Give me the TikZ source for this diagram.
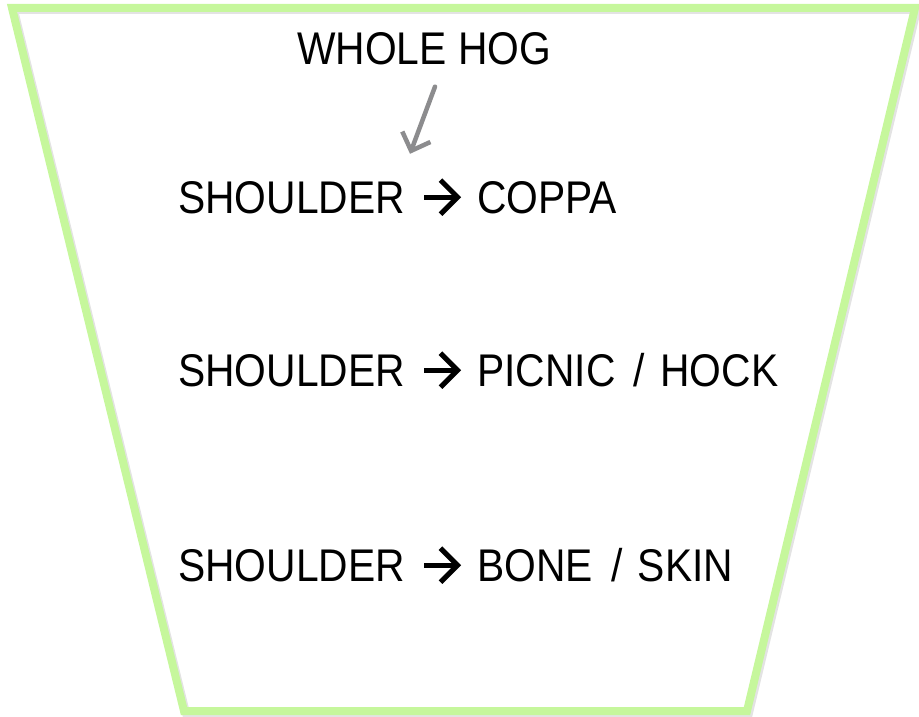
\documentclass[tikz,border=0pt]{standalone}
\usepackage{fontspec}
\usepackage{tikz}
\usetikzlibrary{arrows.meta,positioning}
\setmainfont[FakeStretch=0.89]{Liberation Sans}
\newcommand{\slashgap}{\hspace{7bp}/\hspace{4bp}}
\definecolor{Rim}{HTML}{C6F79C}
\definecolor{Shade}{HTML}{C8C8C8}
\definecolor{Pointer}{HTML}{8C8C8E}

\begin{document}
\begin{tikzpicture}[x=1bp, y=-1bp, font=\fontsize{46}{52}\selectfont,
  cut/.style={anchor=base west, inner sep=0pt},
  cutarrow/.style={-{Straight Barb[length=17bp, width=34bp]}, line width=5bp}]
  \useasboundingbox (0,0) rectangle (919,717);
  \draw[Shade, line width=8bp, opacity=0.5] (14,10) -- (917,10) -- (749,713) -- (186,713) -- cycle;
  \draw[Rim, line width=8bp] (12,8) -- (915,8) -- (747,711) -- (184,711) -- cycle;
  \node[cut] (hog) at (297,65) {WHOLE HOG};
  % shoulder rows
  \node[cut] (coppaS) at (178,213) {SHOULDER};
  \node[cut, right=72bp of coppaS.base east, anchor=base west] (coppa) {COPPA};
  \node[cut] (picnicS) at (178,386) {SHOULDER};
  \node[cut, right=72bp of picnicS.base east, anchor=base west] (picnic) {PICNIC \slashgap{} HOCK};
  \node[cut] (boneS) at (178,581) {SHOULDER};
  \node[cut, right=72bp of boneS.base east, anchor=base west] (bone) {BONE \slashgap{} SKIN};
  \draw[cutarrow] ([xshift=19bp]coppaS.east) -- ([xshift=-16bp]coppa.west);
  \draw[cutarrow] ([xshift=19bp]picnicS.east) -- ([xshift=-16bp]picnic.west |- picnicS.east);
  \draw[cutarrow] ([xshift=19bp]boneS.east) -- ([xshift=-16bp]bone.west |- boneS.east);
  \draw[-{Straight Barb[length=15bp, width=30bp]}, Pointer, line width=4.5bp, line cap=round]
    ([shift={(138,21)}]hog.south west) -- ([shift={(232,-27)}]coppaS.north west);
\end{tikzpicture}
\end{document}
